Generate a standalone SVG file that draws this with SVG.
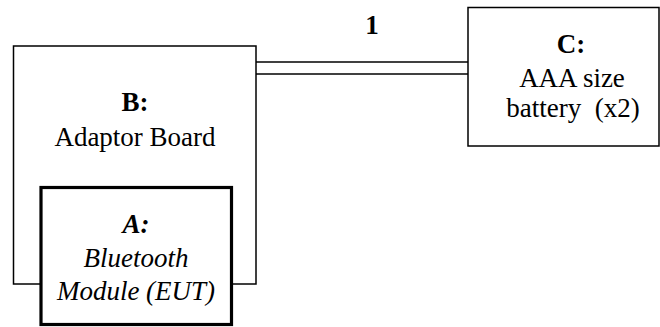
<svg xmlns="http://www.w3.org/2000/svg" width="660" height="327" viewBox="0 0 660 327">
  <style>
    .box { fill: #fff; stroke: #000; stroke-width: 1.5; }
    .eut { fill: #fff; stroke: #000; stroke-width: 3.2; }
    .wire { stroke: #000; stroke-width: 1.5; fill: none; }
    text { font-family: 'Liberation Serif', 'Times New Roman', Times, 'DejaVu Serif', serif; font-size: 27px; fill: #000; text-anchor: middle; }
    .b { font-weight: bold; }
    .i { font-style: italic; }
  </style>
  <rect width="660" height="327" fill="#fff"/>

  <!-- cable 1: double line between adaptor board and battery -->
  <g id="connectors">
    <line class="wire" x1="256" y1="62" x2="468" y2="62"/>
    <line class="wire" x1="256" y1="74" x2="468" y2="74"/>
    <text class="b" x="372" y="34">1</text>
  </g>

  <g id="node-b">
    <rect class="box" x="13.5" y="46" width="242.5" height="238"/>
    <text class="b" x="135" y="111">B:</text>
    <text x="135" y="146">Adaptor Board</text>
  </g>

  <g id="node-a">
    <rect class="eut" x="41" y="187.5" width="190.5" height="137"/>
    <text class="b i" x="136" y="233">A:</text>
    <text class="i" x="136" y="267">Bluetooth</text>
    <text class="i" x="136" y="300">Module (EUT)</text>
  </g>

  <g id="node-c">
    <rect class="box" x="468" y="7.5" width="191" height="138.5"/>
    <text class="b" x="571" y="53">C:</text>
    <text x="572" y="87">AAA size</text>
    <text x="573" y="117" xml:space="preserve">battery  (x2)</text>
  </g>
</svg>
